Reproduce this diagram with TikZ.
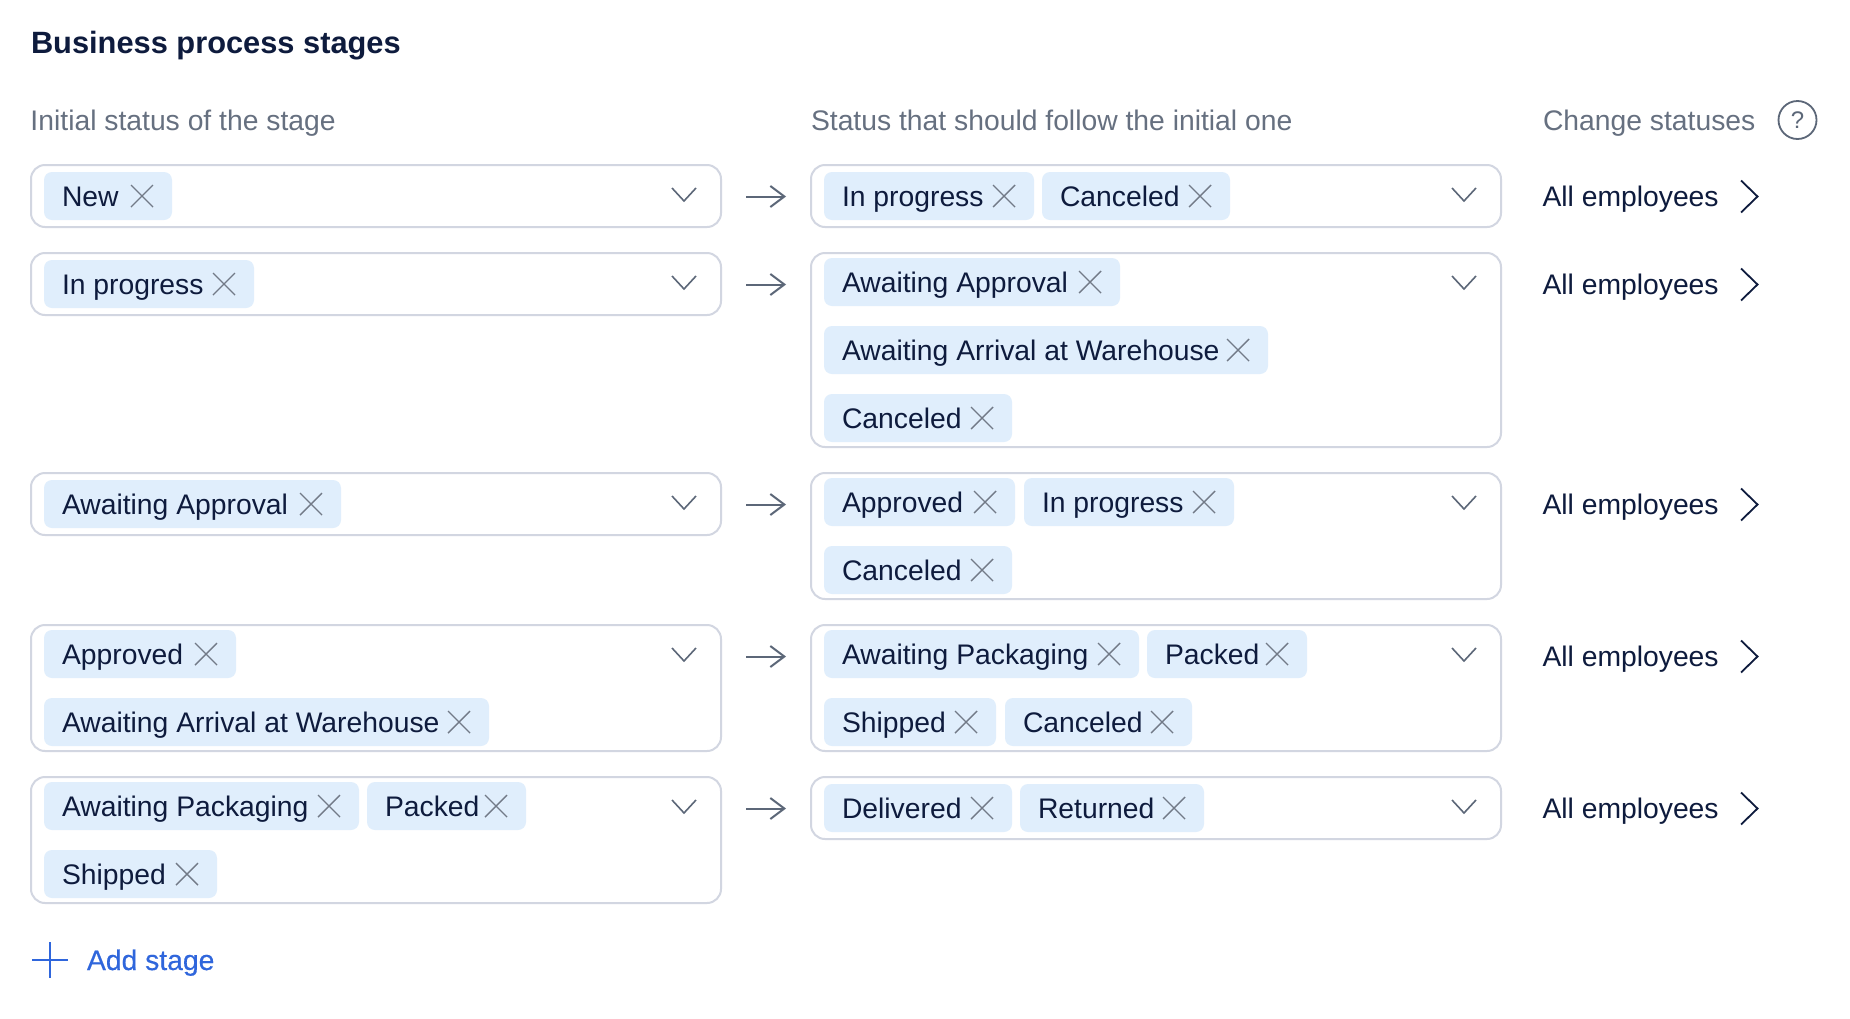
\documentclass[tikz,border=0pt]{standalone}
\usepackage{fontspec}
\setmainfont{Liberation Sans}
\newfontfamily\mediumface[FakeBold=0.35]{Liberation Sans}
\usetikzlibrary{calc,arrows.meta}
\definecolor{ink}{HTML}{0E1B3D}
\definecolor{muted}{HTML}{667080}
\definecolor{edge}{HTML}{D2D6E1}
\definecolor{chipfill}{HTML}{E0EEFC}
\definecolor{glyph}{HTML}{5C6778}
\definecolor{xgrey}{HTML}{727A87}
\definecolor{link}{HTML}{2F66DC}
\tikzset{
  field/.style={draw=edge,line width=2pt,rounded corners=14pt,fill=white,inner sep=0pt,outer sep=0pt,anchor=north west},
  chipbox/.style={fill=chipfill,rounded corners=8pt,inner sep=0pt,outer sep=0pt,minimum height=48pt,anchor=north west},
  label/.style={inner sep=0pt,outer sep=0pt,anchor=base west,font=\fontsize{28.3}{34}\selectfont,text=ink},
  header/.style={label,text=muted},
  xmark/.style={draw=xgrey,line width=1.4pt},
  caret/.style={draw=glyph,line width=1.6pt},
  flow/.style={draw=glyph,line width=2pt,-{Straight Barb[length=14pt,width=21pt,line width=2pt]}},
  nextmark/.style={draw=ink,line width=1.8pt},
}
\newcommand{\fieldbox}[5]{% id x0 x1 y0 y1
  \node[field,minimum width={#3-#2},minimum height={#5-#4}] (#1) at (#2,#4) {};
  \draw[caret] ($(#1.north east)+(-49,23)$) -- ($(#1.north east)+(-37,36)$) -- ($(#1.north east)+(-25,23)$);
}
\newcommand{\chipitem}[5]{% id x0 x1 y0 text
  \node[chipbox,minimum width={#3-#2}] (#1) at (#2,#4) {};
  \node[label] (#1t) at ({#2+18},{#4+34.5}) {#5};
  \draw[xmark] ({#3-41},{#4+13}) -- ({#3-19},{#4+35});
  \draw[xmark] ({#3-41},{#4+35}) -- ({#3-19},{#4+13});
}
\newcommand{\rowlink}[3]{% left right id
  \draw[flow] ($(#1.north east)+(25,31.5)$) -- ($(#2.north west)+(-25,31.5)$);
  \node[label] (who#3) at ($(#2.north east)+(41.5,41.5)$) {All employees};
  \draw[nextmark] ($(#2.north east)+(240,15.5)$) -- ($(#2.north east)+(256.5,31.5)$) -- ($(#2.north east)+(240,47.5)$);
}
\begin{document}
\begin{tikzpicture}[x=1pt,y=-1pt]
\useasboundingbox[fill=white] (0,0) rectangle (1850,1018);
\node[label,font=\fontsize{30.8}{36}\selectfont\bfseries] (title) at (31,53) {Business process stages};
\node[header] (h1) at (30.5,130.5) {Initial status of the stage};
\node[header] (h2) at (811,130.5) {Status that should follow the initial one};
\node[header] (h3) at (1543,130.5) {Change statuses};
\node[draw=glyph,circle,line width=1.8pt,minimum size=38pt,inner sep=0pt,font=\fontsize{24}{28}\selectfont,text=glyph] (help) at (1797.5,120) {?};

\fieldbox{L1}{31}{721}{165}{227}
\fieldbox{L2}{31}{721}{253}{315}
\fieldbox{L3}{31}{721}{473}{535}
\fieldbox{L4}{31}{721}{625}{751}
\fieldbox{L5}{31}{721}{777}{903}
\fieldbox{R1}{811}{1501}{165}{227}
\fieldbox{R2}{811}{1501}{253}{447}
\fieldbox{R3}{811}{1501}{473}{599}
\fieldbox{R4}{811}{1501}{625}{751}
\fieldbox{R5}{811}{1501}{777}{839}

\chipitem{a1}{44}{172}{172}{New}
\chipitem{a2}{44}{254}{260}{In progress}
\chipitem{a3}{44}{341}{480}{Awaiting Approval}
\chipitem{a4}{44}{236}{630}{Approved}
\chipitem{a5}{44}{489}{698}{Awaiting Arrival at Warehouse}
\chipitem{a6}{44}{359}{782}{Awaiting Packaging}
\chipitem{a7}{367}{526}{782}{Packed}
\chipitem{a8}{44}{217}{850}{Shipped}

\chipitem{b1}{824}{1034}{172}{In progress}
\chipitem{b2}{1042}{1230}{172}{Canceled}
\chipitem{b3}{824}{1120}{258}{Awaiting Approval}
\chipitem{b4}{824}{1268}{326}{Awaiting Arrival at Warehouse}
\chipitem{b5}{824}{1012}{394}{Canceled}
\chipitem{b6}{824}{1015}{478}{Approved}
\chipitem{b7}{1024}{1234}{478}{In progress}
\chipitem{b8}{824}{1012}{546}{Canceled}
\chipitem{b9}{824}{1139}{630}{Awaiting Packaging}
\chipitem{b10}{1147}{1307}{630}{Packed}
\chipitem{b11}{824}{996}{698}{Shipped}
\chipitem{b12}{1005}{1192}{698}{Canceled}
\chipitem{b13}{824}{1012}{784}{Delivered}
\chipitem{b14}{1020}{1204}{784}{Returned}

\rowlink{L1}{R1}{1}
\rowlink{L2}{R2}{2}
\rowlink{L3}{R3}{3}
\rowlink{L4}{R4}{4}
\rowlink{L5}{R5}{5}

\draw[draw=link,line width=1.8pt] (32,960) -- (68,960) (50,942) -- (50,978);
\node[label,text=link,font=\fontsize{28.3}{34}\selectfont\mediumface] (add) at (87,970) {Add stage};
\end{tikzpicture}
\end{document}
